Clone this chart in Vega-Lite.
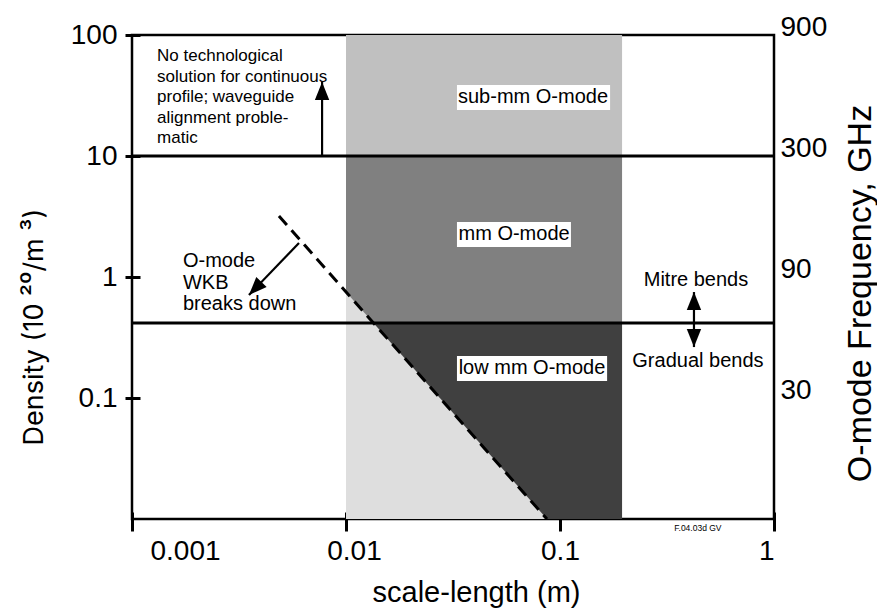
{
  "$schema": "https://vega.github.io/schema/vega-lite/v6.json",
  "width": 642,
  "height": 484,
  "autosize": {"type": "none"},
  "padding": {"left": 132, "top": 35, "right": 103, "bottom": 93},
  "background": "white",
  "config": {
    "view": {"stroke": "black", "strokeWidth": 2.5},
    "axis": {
      "labelFont": "Liberation Sans",
      "titleFont": "Liberation Sans",
      "labelColor": "black",
      "titleColor": "black",
      "titleFontWeight": "normal",
      "tickColor": "black",
      "tickWidth": 3,
      "grid": false,
      "domain": false,
      "labelFontSize": 28
    },
    "text": {"font": "Liberation Sans", "color": "black"}
  },
  "datasets": {
    "bands": [
      {"x": 0.01, "x2": 0.195, "y": 10, "y2": 100, "band": "sub"},
      {"x": 0.01, "x2": 0.195, "y": 0.417, "y2": 10, "band": "mm"},
      {"x": 0.01, "x2": 0.195, "y": 0.01, "y2": 0.417, "band": "low"}
    ],
    "wkbRegion": [
      {"x": 0.01, "y": 0.753},
      {"x": 0.0869, "y": 0.01}
    ],
    "wkbLine": [
      {"x": 0.00486, "y": 3.19},
      {"x": 0.0869, "y": 0.01}
    ],
    "limits": [
      {"y": 10},
      {"y": 0.417}
    ],
    "boxes": [
      {"x": 0.033, "x2": 0.1714, "y": 24, "y2": 38.6},
      {"x": 0.033, "x2": 0.1125, "y": 1.77, "y2": 2.85},
      {"x": 0.033, "x2": 0.166, "y": 0.138, "y2": 0.222}
    ],
    "bandLabels": [
      {"x": 0.0748, "y": 30.8, "label": "sub-mm O-mode"},
      {"x": 0.061, "y": 2.26, "label": "mm O-mode"},
      {"x": 0.074, "y": 0.177, "label": "low mm O-mode"}
    ],
    "notes": [
      {"x": 0.00131, "y": 67, "label": "No technological\nsolution for continuous\nprofile; waveguide\nalignment proble-\nmatic", "kind": "top"},
      {"x": 0.00173, "y": 1.355, "label": "O-mode\nWKB\nbreaks down", "kind": "wkb"}
    ],
    "bends": [
      {"x": 0.432, "y": 0.944, "label": "Mitre bends"},
      {"x": 0.441, "y": 0.2023, "label": "Gradual bends"}
    ],
    "tag": [
      {"x": 0.441, "y": 0.00843, "label": "F.04.03d GV"}
    ],
    "shafts": [
      {"x": 0.00773, "y": 10, "x2": 0.00773, "y2": 40.9},
      {"x": 0.00603, "y": 1.91, "x2": 0.00352, "y2": 0.71},
      {"x": 0.4227, "y": 0.751, "x2": 0.4227, "y2": 0.2636}
    ],
    "heads": [
      {"x": 0.00773, "y": 40.9, "dir": "up"},
      {"x": 0.00352, "y": 0.71, "dir": "downleft"},
      {"x": 0.4227, "y": 0.751, "dir": "up"},
      {"x": 0.4227, "y": 0.2636, "dir": "down"}
    ],
    "freq": [
      {"d": 0.1}, {"d": 1}, {"d": 10}, {"d": 100}
    ]
  },
  "layer": [
    {
      "layer": [
        {
          "data": {"name": "bands"},
          "mark": {"type": "rect"},
          "encoding": {
            "x": {
              "field": "x", "type": "quantitative",
              "scale": {"type": "log", "domain": [0.001, 1]},
              "axis": {
                "values": [0.001, 0.01, 0.1, 1],
                "format": "~g",
                "title": "scale-length (m)",
                "titleFontSize": 29,
                "offset": -7,
                "tickSize": 19,
                "labelPadding": 6,
                "labelOffset": {"expr": "datum.value < 0.005 ? 18 : datum.value < 0.05 ? 8 : 0"},
                "titleX": 344,
                "titleY": 89,
                "titleBaseline": "alphabetic",
                "titleAnchor": "middle"
              }
            },
            "x2": {"field": "x2"},
            "y": {
              "field": "y", "type": "quantitative",
              "scale": {"type": "log", "domain": [0.01, 100]},
              "axis": {
                "values": [0.1, 1, 10, 100],
                "format": "~g",
                "title": "Density (10 ²⁰/m ³)",
                "titleFont": "Inter",
                "titleFontSize": 27,
                "offset": -8,
                "tickSize": 15,
                "labelPadding": 8,
                "titleAngle": 270,
                "titleX": -98,
                "titleY": 410,
                "titleBaseline": "alphabetic",
                "titleAlign": "left"
              }
            },
            "y2": {"field": "y2"},
            "color": {
              "field": "band", "type": "nominal",
              "scale": {"domain": ["sub", "mm", "low"], "range": ["#c0c0c0", "#808080", "#404040"]},
              "legend": null
            }
          }
        },
        {
          "data": {"name": "wkbRegion"},
          "mark": {"type": "area", "color": "#dedede", "opacity": 1},
          "encoding": {
            "x": {"field": "x", "type": "quantitative"},
            "y": {"field": "y", "type": "quantitative"},
            "y2": {"datum": 0.01}
          }
        },
        {
          "data": {"name": "limits"},
          "mark": {"type": "rule", "color": "black", "strokeWidth": 3},
          "encoding": {
            "y": {"field": "y", "type": "quantitative"}
          }
        },
        {
          "data": {"name": "wkbLine"},
          "mark": {"type": "line", "color": "black", "strokeWidth": 3, "strokeDash": [12, 7]},
          "encoding": {
            "x": {"field": "x", "type": "quantitative"},
            "y": {"field": "y", "type": "quantitative"}
          }
        },
        {
          "data": {"name": "boxes"},
          "mark": {"type": "rect", "color": "white"},
          "encoding": {
            "x": {"field": "x", "type": "quantitative"},
            "x2": {"field": "x2"},
            "y": {"field": "y", "type": "quantitative"},
            "y2": {"field": "y2"}
          }
        },
        {
          "data": {"name": "bandLabels"},
          "mark": {"type": "text", "fontSize": 20, "align": "center", "baseline": "middle"},
          "encoding": {
            "x": {"field": "x", "type": "quantitative"},
            "y": {"field": "y", "type": "quantitative"},
            "text": {"field": "label"}
          }
        },
        {
          "data": {"name": "notes"},
          "transform": [{"filter": "datum.kind == 'top'"}],
          "mark": {"type": "text", "fontSize": 17, "align": "left", "baseline": "middle", "lineBreak": "\n", "lineHeight": 20.5},
          "encoding": {
            "x": {"field": "x", "type": "quantitative"},
            "y": {"field": "y", "type": "quantitative"},
            "text": {"field": "label"}
          }
        },
        {
          "data": {"name": "notes"},
          "transform": [{"filter": "datum.kind == 'wkb'"}],
          "mark": {"type": "text", "fontSize": 20, "align": "left", "baseline": "middle", "lineBreak": "\n", "lineHeight": 21.5},
          "encoding": {
            "x": {"field": "x", "type": "quantitative"},
            "y": {"field": "y", "type": "quantitative"},
            "text": {"field": "label"}
          }
        },
        {
          "data": {"name": "bends"},
          "mark": {"type": "text", "fontSize": 20, "align": "center", "baseline": "middle"},
          "encoding": {
            "x": {"field": "x", "type": "quantitative"},
            "y": {"field": "y", "type": "quantitative"},
            "text": {"field": "label"}
          }
        },
        {
          "data": {"name": "tag"},
          "mark": {"type": "text", "fontSize": 8.5, "align": "center", "baseline": "middle", "clip": false},
          "encoding": {
            "x": {"field": "x", "type": "quantitative"},
            "y": {"field": "y", "type": "quantitative"},
            "text": {"field": "label"}
          }
        },
        {
          "data": {"name": "shafts"},
          "mark": {"type": "rule", "color": "black", "strokeWidth": 2.2},
          "encoding": {
            "x": {"field": "x", "type": "quantitative"},
            "x2": {"field": "x2"},
            "y": {"field": "y", "type": "quantitative"},
            "y2": {"field": "y2"}
          }
        },
        {
          "data": {"name": "heads"},
          "transform": [{"filter": "datum.dir == 'up'"}],
          "mark": {"type": "point", "filled": true, "color": "black", "opacity": 1, "shape": "M0,0L-0.4,1L0.4,1Z", "size": 1296, "angle": 0},
          "encoding": {
            "x": {"field": "x", "type": "quantitative"},
            "y": {"field": "y", "type": "quantitative"}
          }
        },
        {
          "data": {"name": "heads"},
          "transform": [{"filter": "datum.dir == 'down'"}],
          "mark": {"type": "point", "filled": true, "color": "black", "opacity": 1, "shape": "M0,0L-0.4,1L0.4,1Z", "size": 1296, "angle": 180},
          "encoding": {
            "x": {"field": "x", "type": "quantitative"},
            "y": {"field": "y", "type": "quantitative"}
          }
        },
        {
          "data": {"name": "heads"},
          "transform": [{"filter": "datum.dir == 'downleft'"}],
          "mark": {"type": "point", "filled": true, "color": "black", "opacity": 1, "shape": "M0,0L-0.4,1L0.4,1Z", "size": 1296, "angle": 224},
          "encoding": {
            "x": {"field": "x", "type": "quantitative"},
            "y": {"field": "y", "type": "quantitative"}
          }
        }
      ]
    },
    {
      "data": {"name": "freq"},
      "mark": {"type": "point", "opacity": 0},
      "encoding": {
        "y": {
          "field": "d", "type": "quantitative",
          "scale": {"type": "log", "domain": [0.01, 100]},
          "axis": {
            "orient": "right",
            "values": [0.1, 1, 10, 100],
            "labelExpr": "datum.value > 50 ? '900' : datum.value > 5 ? '300' : datum.value > 0.5 ? '90' : '30'",
            "ticks": false,
            "labelPadding": 6,
            "labelBaseline": "alphabetic",
            "title": "O-mode Frequency, GHz",
            "titleFontSize": 34,
            "titleAngle": 270,
            "titleX": 96,
            "titleY": 258,
            "titleBaseline": "alphabetic",
            "titleAlign": "center"
          }
        }
      }
    }
  ],
  "resolve": {"scale": {"y": "independent"}}
}
